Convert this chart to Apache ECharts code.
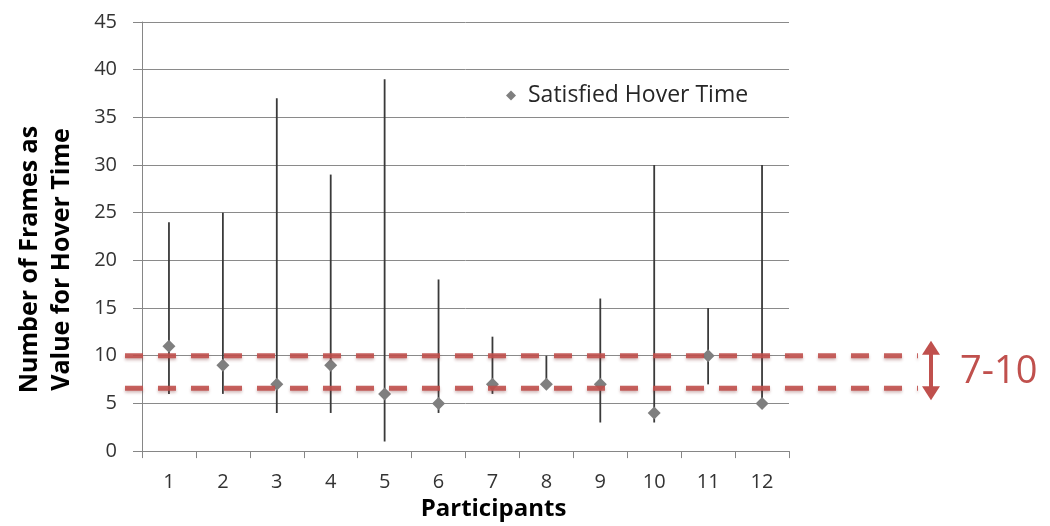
<!DOCTYPE html>
<html><head><meta charset="utf-8">
<script src="https://cdn.jsdelivr.net/npm/echarts@6/dist/echarts.min.js"></script>
<style>html,body{margin:0;padding:0;background:#fff}#c{width:1050px;height:526px}</style>
</head><body><div id="c"></div>
<script>
const participants = ['1','2','3','4','5','6','7','8','9','10','11','12'];
const satisfied = [11, 9, 7, 9, 6, 5, 7, 7, 7, 4, 10, 5];
const lows = [6, 6, 4, 4, 1, 4, 6, 7, 3, 3, 7, 5];
const highs = [24, 25, 37, 29, 39, 18, 12, 10, 16, 30, 15, 30];
const bandLow = 6.6;
const bandHigh = 10;
const bandLabel = '7-10';
const yTicks = [0, 45, 5];

const FONT = 'Open Sans';
const RED = '#c0504d';
const chart = echarts.init(document.getElementById('c'), null, {renderer: 'canvas'});
const rangeData = participants.map((p, i) => [i, lows[i], highs[i]]);

chart.setOption({
  animation: false,
  grid: {left: 142, right: 261, top: 22, bottom: 74},
  legend: {
    data: [{name: 'Satisfied Hover Time', icon: 'diamond'}],
    left: 501, top: 79, itemWidth: 10, itemHeight: 10, itemGap: 6,
    textStyle: {fontFamily: FONT, fontSize: 23, color: '#262626', padding: [0, 0, 0, 7]}
  },
  xAxis: {
    type: 'category', data: participants, boundaryGap: true,
    name: 'Participants', nameLocation: 'middle', nameGap: 43,
    nameTextStyle: {fontFamily: FONT, fontSize: 24, fontWeight: 'bold', color: '#000', padding: [0, 0, 0, 56]},
    axisLine: {lineStyle: {color: '#868686', width: 1}},
    axisTick: {show: true, alignWithLabel: false, length: 7, lineStyle: {color: '#868686'}},
    axisLabel: {fontFamily: FONT, fontSize: 20, color: '#333', margin: 21}
  },
  yAxis: {
    type: 'value', min: yTicks[0], max: yTicks[1], interval: yTicks[2],
    name: 'Number of Frames as\nValue for Hover Time', nameLocation: 'middle', nameGap: 64,
    nameRotate: 90,
    nameTextStyle: {fontFamily: FONT, fontSize: 25, fontWeight: 'bold', color: '#000', lineHeight: 32, padding: [0, 46, 0, 0]},
    axisLine: {show: true, lineStyle: {color: '#868686', width: 1}},
    axisTick: {show: true, length: 9, lineStyle: {color: '#868686'}},
    axisLabel: {fontFamily: FONT, fontSize: 20, color: '#333', margin: 25},
    splitLine: {lineStyle: {color: '#8a8a8a', width: 1}}
  },
  series: [
    {
      name: 'range', type: 'custom', data: rangeData, z: 3,
      renderItem: function (params, api) {
        const x = api.value(0);
        const p1 = api.coord([x, api.value(1)]);
        const p2 = api.coord([x, api.value(2)]);
        return {type: 'line', shape: {x1: p1[0], y1: p1[1], x2: p2[0], y2: p2[1]},
          style: {stroke: '#3a3a3a', lineWidth: 1.8}};
      }
    },
    {
      name: 'Satisfied Hover Time', type: 'scatter', data: satisfied, z: 5,
      symbol: 'diamond', symbolSize: 13,
      itemStyle: {color: '#7f7f7f', opacity: 1}
    }
  ]
});

function drawAnnotations() {
  const yHi = chart.convertToPixel({yAxisIndex: 0}, bandHigh);
  const yLo = chart.convertToPixel({yAxisIndex: 0}, bandLow);
  const dashStyle = {stroke: RED, lineWidth: 5, lineDash: [18, 15], opacity: 0.9,
    shadowBlur: 3, shadowColor: 'rgba(120,40,40,0.35)', shadowOffsetY: 2};
  const ax = 931, aTop = yHi - 15, aBot = yLo + 12;
  chart.setOption({
    graphic: [
      {type: 'line', z: 100, shape: {x1: 125, y1: yHi, x2: 918, y2: yHi}, style: dashStyle},
      {type: 'line', z: 100, shape: {x1: 125, y1: yLo, x2: 918, y2: yLo}, style: dashStyle},
      {type: 'line', z: 100, shape: {x1: ax, y1: aTop + 10, x2: ax, y2: aBot - 10},
        style: {stroke: RED, lineWidth: 4}},
      {type: 'polygon', z: 100, shape: {points: [[ax, aTop], [ax - 9, aTop + 14], [ax + 9, aTop + 14]]},
        style: {fill: RED}},
      {type: 'polygon', z: 100, shape: {points: [[ax, aBot], [ax - 9, aBot - 14], [ax + 9, aBot - 14]]},
        style: {fill: RED}},
      {type: 'text', z: 100, x: 960, y: (yHi + yLo) / 2,
        style: {text: bandLabel, fontFamily: FONT, fontSize: 38, fill: RED, verticalAlign: 'middle'}}
    ]
  });
}
drawAnnotations();
</script></body></html>
